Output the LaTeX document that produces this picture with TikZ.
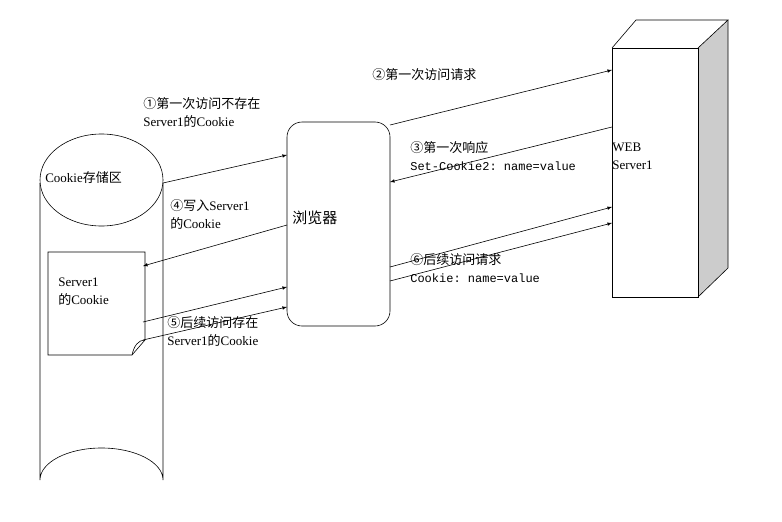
\documentclass[tikz,border=0pt]{standalone}
\usepackage{fontspec}
\setmainfont{Liberation Serif}
\setmonofont{Liberation Mono}
\newfontfamily\cjk{Noto Sans CJK SC}
\newcommand{\zh}[1]{{\cjk #1}}
\newcommand{\code}[1]{{\fontsize{12}{18}\selectfont\ttfamily #1}}
\begin{document}
\begin{tikzpicture}[x=1pt, y=-1pt, >=latex, line width=0.6pt]
    \tikzset{lbl/.style={anchor=west, align=left, inner sep=0pt, font=\fontsize{13}{18}\selectfont}}
    \tikzset{msg/.style={->, shorten >=0pt}}
    \useasboundingbox (0,0) rectangle (782,522);

    % cookie store cylinder
    \draw (40,183) -- (40,480) arc[start angle=180, end angle=360, x radius=61.5, y radius=32] -- (163,183);
    \draw[fill=white] (101.5,180) ellipse[x radius=61.5, y radius=46];
    \node[lbl] (store) at (45,178) {Cookie\zh{存储区}};
    \coordinate (store-out) at (163,183);

    % cookie document
    \draw (48,252) -- (145,252) -- (145,340) -- (132,355) -- (48,355) -- cycle;
    \draw (145,340) .. controls (138,340) and (134,346) .. (132,355);
    \node[lbl] (doc) at (58,292) {Server1\\\zh{的}Cookie};

    % browser
    \draw[rounded corners=15pt] (287,122) rectangle (390,326);
    \node[lbl, font=\fontsize{15}{18}\selectfont] (browser) at (292,218) {\zh{浏览器}};

    % web server
    \fill[gray!40] (698,48) -- (728,20) -- (728,268) -- (698,297) -- cycle;
    \draw (612,48) rectangle (698,297);
    \draw (612,48) -- (636,20) -- (728,20) -- (698,48);
    \draw (728,20) -- (728,268) -- (698,297);
    \node[lbl] (server) at (612,156) {WEB\\Server1};

    % messages
    \coordinate (b1) at (287,155);
    \coordinate (b2) at (390,125);
    \coordinate (b3) at (390,182);
    \coordinate (b4) at (287,225);
    \coordinate (b5a) at (287,287);
    \coordinate (b5b) at (287,307);
    \coordinate (b6a) at (390,267);
    \coordinate (b6b) at (390,281);
    \coordinate (s2) at (612,70);
    \coordinate (s3) at (612,127);
    \coordinate (s6a) at (612,207);
    \coordinate (s6b) at (612,223);
    \coordinate (d4) at (143,266);
    \coordinate (d5a) at (143,322);
    \coordinate (d5b) at (143,340);

    \draw[msg] (store-out) -- (b1);
    \draw[msg] (b2) -- (s2);
    \draw[msg] (s3) -- (b3);
    \draw[msg] (b4) -- (d4);
    \draw[msg] (d5a) -- (b5a);
    \draw[msg] (d5b) -- (b5b);
    \draw[msg] (b6a) -- (s6a);
    \draw[msg] (b6b) -- (s6b);

    % labels
    \node[lbl] (l1) at (143,112) {\zh{①第一次访问不存在}\\Server1\zh{的}Cookie};
    \node[lbl] (l2) at (372,75) {\zh{②第一次访问请求}};
    \node[lbl] (l3) at (410,156) {\zh{③第一次响应}\\\code{Set-Cookie2: name=value}};
    \node[lbl] (l4) at (170,214) {\zh{④写入}Server1\\\zh{的}Cookie};
    \node[lbl] (l5) at (167,331) {\zh{⑤后续访问存在}\\Server1\zh{的}Cookie};
    \node[lbl] (l6) at (410,268) {\zh{⑥后续访问请求}\\\code{Cookie: name=value}};
\end{tikzpicture}
\end{document}
